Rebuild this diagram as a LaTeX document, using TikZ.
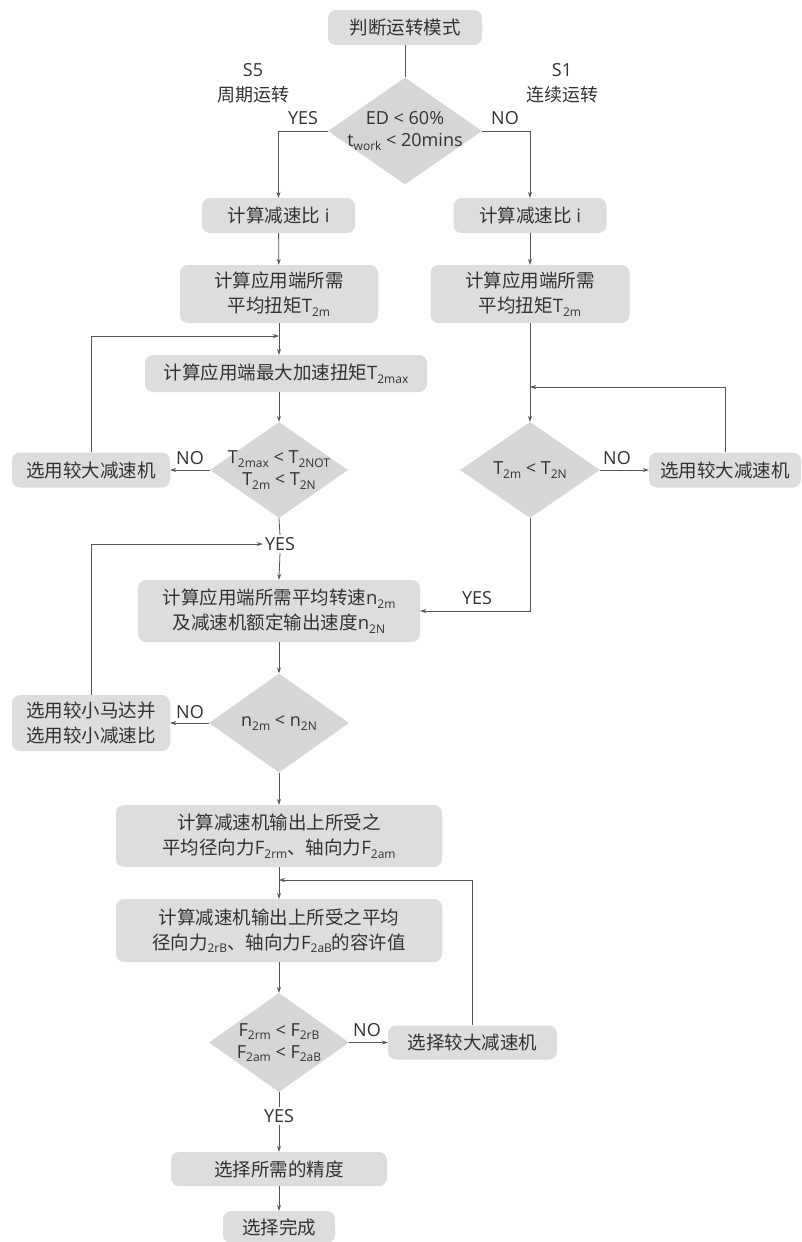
\documentclass[tikz,border=0pt]{standalone}
\usepackage{fontspec}
\setmainfont{Open Sans}
\newfontfamily\cjkfont{Noto Sans CJK SC}
\usetikzlibrary{shapes.geometric,arrows.meta}
\newcommand\zh[1]{{\cjkfont #1}}
\newcommand\subs[1]{\raisebox{-0.35ex}{\fontsize{12}{12}\selectfont #1}}
\definecolor{boxgray}{RGB}{221,221,221}
\definecolor{diagray}{RGB}{214,214,214}
\definecolor{txt}{RGB}{50,50,50}
\definecolor{ln}{RGB}{85,85,85}
\tikzset{
  box/.style={rectangle, rounded corners=8pt, fill=boxgray, inner sep=0pt, align=center,
    font=\fontsize{18.5}{25}\selectfont, text=txt},
  sz/.style 2 args={minimum width=#1, minimum height=#2},
  dia/.style={diamond, fill=diagray, inner sep=-40pt, align=center,
    font=\fontsize{18}{22}\selectfont, text=txt},
  lbl/.style={inner sep=2pt, font=\fontsize{18}{21}\selectfont, text=txt, align=center},
  line/.style={draw=ln, line width=0.8pt},
  arr/.style={line, -{Stealth[length=6pt,width=4pt]}}
}
\begin{document}
\begin{tikzpicture}[x=1pt,y=-1pt]
\useasboundingbox[fill=white] (0,0) rectangle (802,1242);
% nodes
\node[box, sz={154}{35}] (t0) at (405,27.5) {\zh{判断运转模式}};
\node[dia, minimum width=154, minimum height=107] (D1) at (405,131) {ED < 60\%\\t\subs{work} < 20mins};
\node[lbl] (s5) at (253,70) {S5};
\node[lbl] (s5t) at (253,95) {\zh{周期运转}};
\node[lbl] (s1) at (562,70) {S1};
\node[lbl] (s1t) at (562,95) {\zh{连续运转}};
\node[lbl] (yes1) at (303,118) {YES};
\node[lbl] (no1) at (505,118) {NO};

\node[box, sz={153}{35}] (L1) at (278.5,215.5) {\zh{计算减速比} i};
\node[box, sz={153}{35}] (R1) at (530,215.5) {\zh{计算减速比} i};
\node[box, sz={198}{58}] (L2) at (279,294) {\zh{计算应用端所需}\\\zh{平均扭矩}T\subs{2m}};
\node[box, sz={199}{58}] (R2) at (530,294) {\zh{计算应用端所需}\\\zh{平均扭矩}T\subs{2m}};
\node[box, sz={282}{37}] (L3) at (286,373.5) {\zh{计算应用端最大加速扭矩}T\subs{2max}};
\coordinate (jL) at (279,336);
\coordinate (jR) at (530,387);

\node[dia, minimum width=138, minimum height=96] (D2) at (279,470) {T\subs{2max} < T\subs{2NOT}\\T\subs{2m} < T\subs{2N}};
\node[box, sz={158}{35}] (LB1) at (91,470) {\zh{选用较大减速机}};
\node[lbl] (no2) at (190,458) {NO};
\node[dia, minimum width=140, minimum height=96] (DR) at (530,470) {T\subs{2m} < T\subs{2N}};
\node[box, sz={152}{35}] (RB1) at (725,470) {\zh{选用较大减速机}};
\node[lbl] (noR) at (617,458) {NO};

\node[lbl] (yes2) at (280,544) {YES};
\node[box, sz={282}{62}] (L4) at (279,611) {\zh{计算应用端所需平均转速}n\subs{2m}\\\zh{及减速机额定输出速度}n\subs{2N}};
\node[lbl] (yesR) at (477,598) {YES};

\node[dia, minimum width=140, minimum height=99] (D3) at (279,723) {n\subs{2m} < n\subs{2N}};
\node[box, sz={158}{56}] (LB2) at (91,723) {\zh{选用较小马达并}\\\zh{选用较小减速比}};
\node[lbl] (no3) at (190,712) {NO};

\node[box, sz={326}{62}] (L5) at (279,836) {\zh{计算减速机输出上所受之}\\\zh{平均径向力}F\subs{2rm}\zh{、轴向力}F\subs{2am}};
\coordinate (jB) at (279,880);
\node[box, sz={326}{63}] (L6) at (279,930.5) {\zh{计算减速机输出上所受之平均}\\\zh{径向力}\subs{2rB}\zh{、轴向力}F\subs{2aB}\zh{的容许值}};
\node[dia, minimum width=140, minimum height=99] (D4) at (279,1042.5) {F\subs{2rm} < F\subs{2rB}\\F\subs{2am} < F\subs{2aB}};
\node[box, sz={169}{34}] (RB2) at (472.5,1042.5) {\zh{选择较大减速机}};
\node[lbl] (no4) at (367,1030) {NO};
\node[lbl] (yes4) at (279,1116) {YES};
\node[box, sz={216}{34}] (L7) at (279,1169) {\zh{选择所需的精度}};
\node[box, sz={112}{32}] (L8) at (279,1227) {\zh{选择完成}};

% connectors
\draw[line] (t0) -- (D1);
\draw[arr] (D1.west) -| (L1.north);
\draw[arr] (D1.east) -| (R1.north);
\draw[arr] (L1) -- (L2);
\draw[arr] (R1) -- (R2);
\draw[arr] (L2.south) -- (L2.south |- L3.north);
\draw[arr] (LB1.north) |- (jL);
\draw[arr] (L3.south -| D2.north) -- (D2.north);
\draw[arr] (D2.west) -- (LB1.east);
\draw[line] (D2.south) -- (yes2.north);
\draw[arr] (yes2.south) -- (L4.north);
\draw[arr] (LB2.north) |- (yes2.west);
\draw[arr] (R2.south) -- (DR.north);
\draw[arr] (RB1.north) |- (jR);
\draw[arr] (DR.east) -- (RB1.west);
\draw[arr] (DR.south) |- (L4.east);
\draw[arr] (L4) -- (D3);
\draw[arr] (D3.west) -- (LB2.east);
\draw[arr] (D3) -- (L5);
\draw[arr] (L5) -- (L6);
\draw[arr] (RB2.north) |- (jB);
\draw[arr] (L6) -- (D4);
\draw[arr] (D4.east) -- (RB2.west);
\draw[line] (D4.south) -- (yes4.north);
\draw[arr] (yes4.south) -- (L7.north);
\draw[arr] (L7) -- (L8);
\end{tikzpicture}
\end{document}
